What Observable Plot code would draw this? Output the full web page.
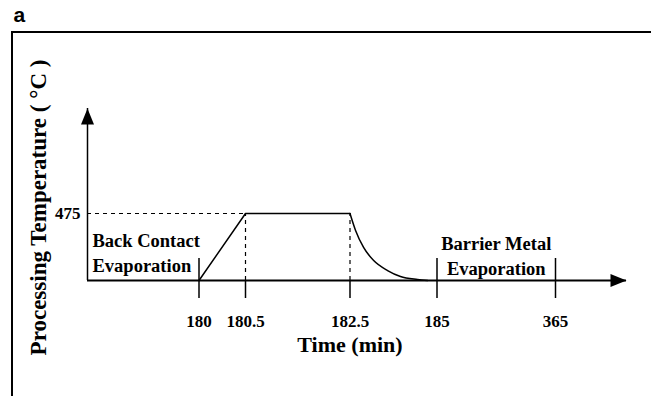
<!DOCTYPE html>
<html><head><meta charset="utf-8">
<script src="https://cdn.jsdelivr.net/npm/d3@7"></script>
<script src="https://cdn.jsdelivr.net/npm/@observablehq/plot@0.6"></script>
<style>
body{margin:0;background:#fff}
#wrap{position:relative;width:651px;height:396px;overflow:hidden;background:#fff}
#box{position:absolute;left:11px;top:31px;width:700px;height:420px;border-top:2px solid #000;border-left:2px solid #000}
#wrap svg{position:absolute;left:0;top:0}
</style></head><body><div id="wrap"><div id="box"></div></div>
<script>
// ---- data ----
const panelLabel = "a";
const xLabel = "Time (min)";
const yLabel = "Processing Temperature ( °C )";
const tickTimes = [180, 180.5, 182.5, 185, 365];
const tickLabels = ["180", "180.5", "182.5", "185", "365"];
const phaseMarks = [180, 185, 365];
const holdMarks = [180.5, 182.5];
const yTickValues = [475];
const yTickLabels = ["475"];
const baseTemp = 25;
const peakTemp = 475;
const rampTime = [180, 180.5, 182.5];
const rampTemp = [25, 475, 475];
const coolTime = [182.5, 182.66, 182.89, 183.18, 183.58, 183.95, 184.44, 184.73];
const coolTemp = [475, 361, 247, 159, 92, 52, 32, 25];
const axisStart = 0, axisEnd = 420, tempTop = 1180;
const phaseText = ["Back Contact\nEvaporation", "Barrier Metal\nEvaporation"];
const phaseCenter = 275;

// ---- tables ----
const ramp = rampTime.map((t, i) => ({t, T: rampTemp[i]}));
const cool = coolTime.map((t, i) => ({t, T: coolTemp[i]}));
const ticks = tickTimes.map((t, i) => ({t, label: tickLabels[i]}));

const serif = "'Liberation Serif','Times New Roman',serif";
const arrowRight = {draw(ctx) { ctx.moveTo(0, 0); ctx.lineTo(-16, -6.5); ctx.lineTo(-16, 6.5); ctx.closePath(); }};
const arrowUp = {draw(ctx) { ctx.moveTo(0, 0); ctx.lineTo(-6.5, 16); ctx.lineTo(6.5, 16); ctx.closePath(); }};

const chart = Plot.plot({
  width: 651, height: 396,
  marginTop: 0, marginRight: 0, marginBottom: 0, marginLeft: 0,
  x: {type: "linear", domain: [axisStart, ...tickTimes, axisEnd], range: [87, 198.5, 245, 349.5, 436.5, 555, 626], axis: null},
  y: {type: "linear", domain: [baseTemp, tempTop], range: [280, 108], axis: null},
  marks: [
    // dashed guides
    Plot.ruleY([peakTemp], {x1: axisStart, x2: 180.5, stroke: "#000", strokeWidth: 1.2, strokeDasharray: "4,4"}),
    Plot.ruleX(holdMarks, {x: d => d, y1: baseTemp, y2: peakTemp, stroke: "#000", strokeWidth: 1.2, strokeDasharray: "4,4"}),
    // tick marks
    Plot.ruleX(phaseMarks, {x: d => d, y1: baseTemp, y2: baseTemp, insetTop: -22, insetBottom: -18, stroke: "#000", strokeWidth: 1.5}),
    Plot.ruleX(holdMarks, {x: d => d, y1: baseTemp, y2: baseTemp, insetTop: 0, insetBottom: -18, stroke: "#000", strokeWidth: 1.5}),
    // axes
    Plot.ruleY([baseTemp], {x1: axisStart, x2: axisEnd, stroke: "#000", strokeWidth: 1.8}),
    Plot.ruleX([axisStart], {y1: baseTemp, y2: tempTop, stroke: "#000", strokeWidth: 1.5}),
    Plot.dot([0], {x: axisEnd, y: baseTemp, symbol: arrowRight, fill: "#000", stroke: null}),
    Plot.dot([0], {x: axisStart, y: tempTop, symbol: arrowUp, fill: "#000", stroke: null}),
    // profile
    Plot.line(ramp, {x: "t", y: "T", stroke: "#000", strokeWidth: 1.5}),
    Plot.line(cool, {x: "t", y: "T", curve: "monotone-x", stroke: "#000", strokeWidth: 1.5}),
    // texts
    Plot.text(ticks, {x: "t", y: baseTemp, text: "label", dy: 46, lineAnchor: "bottom", fontFamily: serif, fontWeight: "bold", fontSize: 17, fill: "#000"}),
    Plot.text(yTickValues, {x: axisStart, y: d => d, text: (d, i) => yTickLabels[i], textAnchor: "end", dx: -7, lineAnchor: "middle", fontFamily: serif, fontWeight: "bold", fontSize: 17, fill: "#000"}),
    Plot.text([yLabel], {x: axisStart, y: peakTemp, text: d => d, rotate: -90, dx: -49, dy: -6, lineAnchor: "middle", fontFamily: serif, fontWeight: "bold", fontSize: 23, fill: "#000"}),
    Plot.text([xLabel], {x: 182.5, y: baseTemp, text: d => d, dy: 71, lineAnchor: "bottom", fontFamily: serif, fontWeight: "bold", fontSize: 22, fill: "#000"}),
    Plot.text([phaseText[0]], {x: axisStart, y: baseTemp, text: d => d, textAnchor: "start", dx: 5, dy: -9, lineAnchor: "bottom", lineHeight: 1.33, fontFamily: serif, fontWeight: "bold", fontSize: 18.5, fill: "#000"}),
    Plot.text([phaseText[1]], {x: phaseCenter, y: baseTemp, text: d => d, textAnchor: "middle", dy: -6, lineAnchor: "bottom", lineHeight: 1.33, fontFamily: serif, fontWeight: "bold", fontSize: 18.5, fill: "#000"}),
    Plot.text([panelLabel], {frameAnchor: "top-left", text: d => d, dx: 13, dy: 21, textAnchor: "start", lineAnchor: "bottom", fontFamily: "'Liberation Sans',Arial,sans-serif", fontWeight: "bold", fontSize: 21, fill: "#000"})
  ]
});
chart.style.background = "transparent";
document.getElementById("wrap").appendChild(chart);
</script>
</body></html>
